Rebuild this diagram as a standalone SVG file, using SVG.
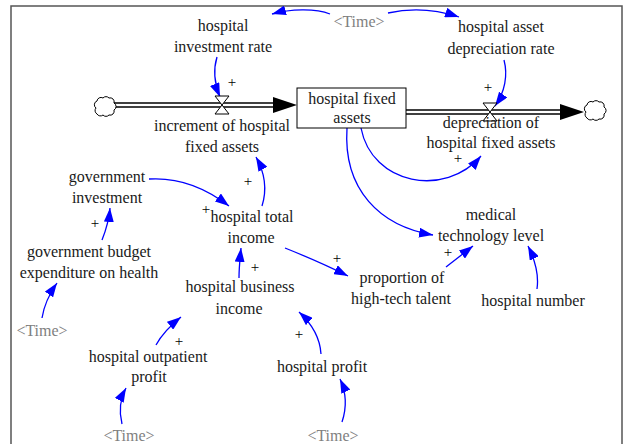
<svg xmlns="http://www.w3.org/2000/svg" width="623" height="444" viewBox="0 0 623 444">
<style>
text{font-family:"Liberation Serif","Times New Roman",serif;font-size:16px;fill:#1a1a1a;text-anchor:middle}
.sh{fill:#808080}
.pl{font-size:15px;fill:#000}
.lk{fill:none;stroke:#0000ff;stroke-width:1.3;marker-end:url(#ah)}
.po{fill:none;stroke:#000;stroke-width:5.5}
.pi{fill:none;stroke:#fff;stroke-width:2.5}
.cl{fill:#fff;stroke:#000;stroke-width:1}
.vv{fill:#fff;stroke:#000;stroke-width:1}
</style>
<defs>
<marker id="ah" markerUnits="userSpaceOnUse" markerWidth="14" markerHeight="10" refX="14" refY="5" orient="auto">
<path d="M0,0 L14,5 L0,10 z" fill="#0000ff"/>
</marker>
<path id="cloud" d="M-8,-6 a4,4 0 0 1 6,-3 a4,4 0 0 1 6,0 a4,4 0 0 1 5,5 a4,4 0 0 1 0,7 a4,4 0 0 1 -5,5 a4,4 0 0 1 -6,0 a4,4 0 0 1 -6,-1 a4,4 0 0 1 -1,-6 a4,4 0 0 1 1,-7 z"/>
</defs>
<rect width="623" height="444" fill="#fff"/>
<path d="M11,446 V6 H622 V446" fill="none" stroke="#555" stroke-width="1.5"/>

<g id="flows">
<path class="po" d="M114,105 H275"/>
<path class="pi" d="M114,105 H275"/>
<polygon points="273,97 297,105 273,113" fill="#000"/>
<path class="po" d="M406,112 H562"/>
<path class="pi" d="M406,112 H562"/>
<polygon points="560,104 584,112 560,120" fill="#000"/>
</g>

<g id="cloud-source"><use href="#cloud" x="105" y="107" class="cl"/></g>
<g id="cloud-sink"><use href="#cloud" x="595" y="111" class="cl"/></g>

<g id="connectors">
<path class="lk" d="M330,14 C315,8 290,9 272,14"/>
<path class="lk" d="M388,13 C410,8 435,9 459,17"/>
<path class="lk" d="M217,57 C213,70 215,85 220,97"/>
<path class="lk" d="M504,60 C508,75 505,92 495,106"/>
<path class="lk" d="M361,128 C372,185 445,198 481,156"/>
<path class="lk" d="M347,128 C343,190 380,226 433,235"/>
<path class="lk" d="M149,179 C180,177 207,189 229,206"/>
<path class="lk" d="M102,240 C106,230 109,220 110,208"/>
<path class="lk" d="M42,318 C44,305 50,293 57,283"/>
<path class="lk" d="M262,206 C267,190 265,173 256,157"/>
<path class="lk" d="M285,248 C305,256 326,265 348,276"/>
<path class="lk" d="M239,278 C239,268 240,258 241,248"/>
<path class="lk" d="M446,267 C455,260 464,253 473,246"/>
<path class="lk" d="M537,289 C539,275 535,260 528,246"/>
<path class="lk" d="M156,345 C162,334 171,325 181,317"/>
<path class="lk" d="M321,354 C320,338 311,323 299,312"/>
<path class="lk" d="M122,424 C119,412 120,399 126,388"/>
<path class="lk" d="M342,422 C347,407 346,392 340,379"/>
</g>

<g id="polarities">
<text class="pl" x="232" y="87">+</text>
<text class="pl" x="488" y="92">+</text>
<text class="pl" x="458" y="163">+</text>
<text class="pl" x="248" y="186">+</text>
<text class="pl" x="206" y="214">+</text>
<text class="pl" x="95" y="228">+</text>
<text class="pl" x="255" y="272">+</text>
<text class="pl" x="337" y="263">+</text>
<text class="pl" x="448" y="257">+</text>
<text class="pl" x="179" y="346">+</text>
<text class="pl" x="299" y="339">+</text>
</g>

<g id="valve-increment"><polygon class="vv" points="215,96 229,96 215,114 229,114"/></g>
<g id="valve-depreciation"><polygon class="vv" points="483,103 497,103 483,121 497,121"/></g>

<g id="hospital-fixed-assets">
<rect x="297" y="88" width="109" height="40" fill="#fff" stroke="#000" stroke-width="1"/>
<text x="352" y="104">hospital fixed</text>
<text x="352" y="123">assets</text>
</g>
<g id="hospital-investment-rate"><text x="223" y="31">hospital</text><text x="223" y="52">investment rate</text></g>
<g id="time-top"><text class="sh" x="359" y="27">&lt;Time&gt;</text></g>
<g id="hospital-asset-depreciation-rate"><text x="501" y="32">hospital asset</text><text x="501" y="54">depreciation rate</text></g>
<g id="increment-of-hospital-fixed-assets"><text x="222" y="131">increment of hospital</text><text x="222" y="152">fixed assets</text></g>
<g id="depreciation-of-hospital-fixed-assets"><text x="491" y="128">depreciation of</text><text x="491" y="148">hospital fixed assets</text></g>
<g id="government-investment"><text x="107" y="182">government</text><text x="107" y="203">investment</text></g>
<g id="government-budget-expenditure-on-health"><text x="89" y="257">government budget</text><text x="89" y="278">expenditure on health</text></g>
<g id="hospital-total-income"><text x="252" y="222">hospital total</text><text x="251" y="243">income</text></g>
<g id="hospital-business-income"><text x="240" y="292">hospital business</text><text x="239" y="314">income</text></g>
<g id="medical-technology-level"><text x="491" y="220">medical</text><text x="491" y="241">technology level</text></g>
<g id="proportion-of-high-tech-talent"><text x="402" y="283">proportion of</text><text x="401" y="304">high-tech talent</text></g>
<g id="hospital-number"><text x="533" y="306">hospital number</text></g>
<g id="time-left"><text class="sh" x="42" y="336">&lt;Time&gt;</text></g>
<g id="hospital-outpatient-profit"><text x="148" y="362">hospital outpatient</text><text x="149" y="382">profit</text></g>
<g id="hospital-profit"><text x="322" y="372">hospital profit</text></g>
<g id="time-bottom-left"><text class="sh" x="129" y="441">&lt;Time&gt;</text></g>
<g id="time-bottom-right"><text class="sh" x="333" y="441">&lt;Time&gt;</text></g>
</svg>
